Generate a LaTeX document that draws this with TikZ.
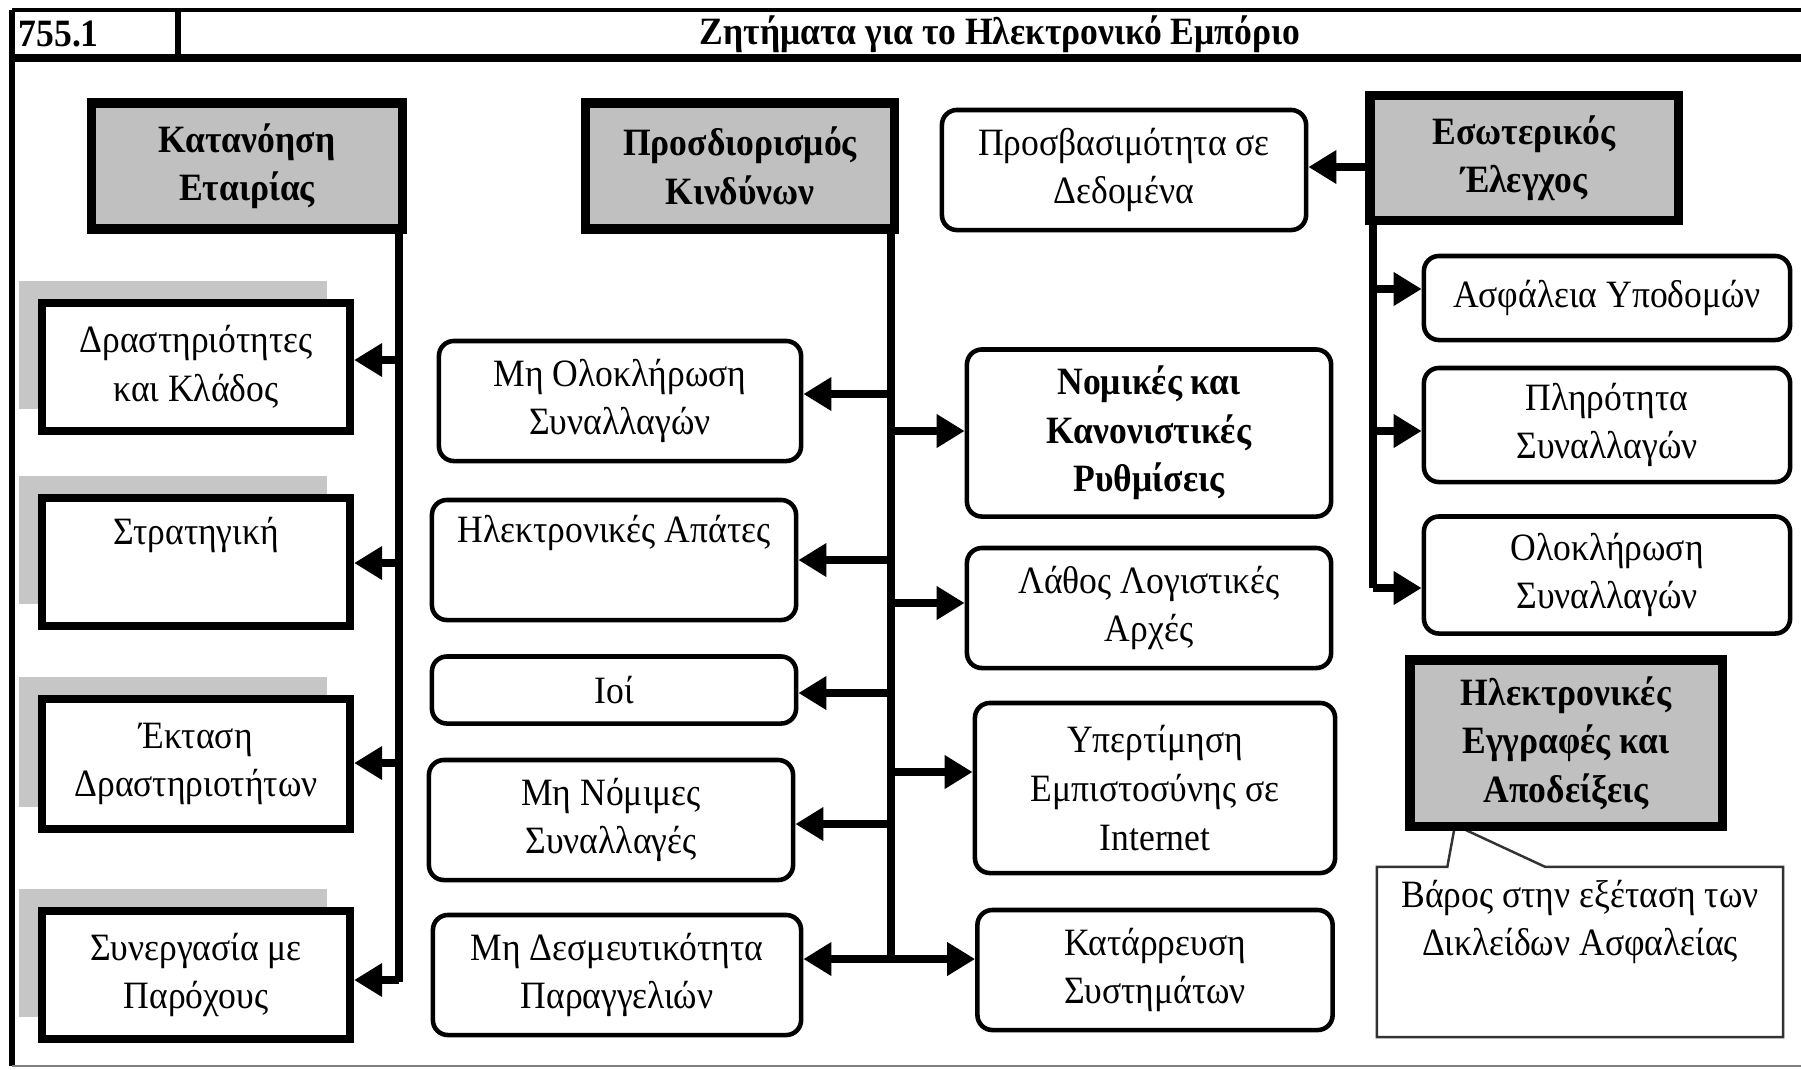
\documentclass[tikz,border=0pt]{standalone}
\usepackage{fontspec}
\setmainfont[FakeStretch=0.92]{Liberation Serif}
\usetikzlibrary{arrows.meta,shadows,shapes.callouts}
\definecolor{boxgrey}{RGB}{192,192,192}
\definecolor{shadegrey}{RGB}{198,198,198}
\tikzset{
  txt/.style={align=center, font=\fontsize{11}{13.8}\selectfont},
  headbox/.style={txt, draw, line width=2.6pt, fill=boxgrey, font=\bfseries\fontsize{11}{13.8}\selectfont, minimum width=3.08cm, minimum height=1.26cm},
  squarebox/.style={txt, draw, line width=2.3pt, fill=white, minimum width=3.08cm, minimum height=1.28cm,
    drop shadow={shadow xshift=-0.23cm, shadow yshift=0.22cm, fill=shadegrey, opacity=1}},
  roundbox/.style={txt, draw, line width=1.3pt, rounded corners=0.15cm, fill=white, minimum width=3.64cm, minimum height=1.2cm},
  trunk/.style={line width=2.2pt},
  arr/.style={line width=2.2pt, -{Triangle[length=0.28cm,width=0.32cm]}}
}
\begin{document}
\begin{tikzpicture}[x=0.01cm,y=-0.01cm]
    \useasboundingbox (0,0) rectangle (1801,1069);
    \draw[line width=1.1pt] (12,10) -- (1801,10);
    \draw[line width=2pt] (12,58) -- (1801,58);
    \draw[line width=1.6pt] (12,10) -- (12,1066);
    \draw[line width=1.6pt] (178,10) -- (178,58);
    \draw[gray, line width=0.6pt] (12,1066) -- (1801,1066);
    \node[font=\bfseries\fontsize{11}{13.8}\selectfont, anchor=west, inner sep=0pt] (num) at (18,34) {755.1};
    \node[font=\bfseries\fontsize{11}{13.8}\selectfont] (title) at (1000,34) {Ζητήματα για το Ηλεκτρονικό Εμπόριο};

    \node[headbox, minimum width=3.1cm] (firm) at (247,166) {Κατανόηση\\Εταιρίας};
    \node[squarebox] (act) at (196,367) {Δραστηριότητες\\και Κλάδος};
    \node[squarebox] (strat) at (196,562) {Στρατηγική\\\strut};
    \node[squarebox, minimum height=1.3cm] (scope) at (196,764) {Έκταση\\Δραστηριοτήτων};
    \node[squarebox] (coop) at (196,975) {Συνεργασία με\\Παρόχους};
    \coordinate (fk) at (399,230);
    \draw[trunk] (fk) -- (399,982);
    \foreach \n/\y in {act/360,strat/563,scope/763,coop/980}
        {\draw[arr] (399,\y) -- (399,\y -| \n.east);}

    \node[headbox] (risk) at (740,166) {Προσδιορισμός\\Κινδύνων};
    \node[roundbox, minimum width=3.62cm] (incomp) at (620,401) {Μη Ολοκλήρωση\\Συναλλαγών};
    \node[roundbox] (fraud) at (614,560) {Ηλεκτρονικές Απάτες\\\strut};
    \node[roundbox, minimum height=0.67cm] (virus) at (614,690) {Ιοί};
    \node[roundbox] (illeg) at (611,820) {Μη Νόμιμες\\Συναλλαγές};
    \node[roundbox, minimum width=3.68cm] (nonbind) at (617,975) {Μη Δεσμευτικότητα\\Παραγγελιών};
    \node[roundbox, minimum height=1.67cm, font=\bfseries\fontsize{11}{13.8}\selectfont] (legal) at (1149,433) {Νομικές και\\Κανονιστικές\\Ρυθμίσεις};
    \node[roundbox] (acct) at (1149,608) {Λάθος Λογιστικές\\Αρχές};
    \node[roundbox, minimum width=3.6cm, minimum height=1.7cm] (trust) at (1155,788) {Υπερτίμηση\\Εμπιστοσύνης σε\\Internet};
    \node[roundbox, minimum width=3.55cm] (crash) at (1155,970) {Κατάρρευση\\Συστημάτων};
    \draw[trunk] (891,230) -- (891,959);
    \foreach \n/\y in {incomp/394,fraud/560,virus/693,illeg/824,nonbind/959}
        {\draw[arr] (891,\y) -- (891,\y -| \n.east);}
    \foreach \n/\y in {legal/431,acct/603,trust/772,crash/959}
        {\draw[arr] (891,\y) -- (891,\y -| \n.west);}

    \node[roundbox] (access) at (1124,170) {Προσβασιμότητα σε\\Δεδομένα};
    \node[headbox, minimum height=1.25cm] (ctrl) at (1524,158) {Εσωτερικός\\Έλεγχος};
    \node[roundbox, minimum width=3.66cm, minimum height=0.84cm] (infra) at (1607,298) {Ασφάλεια Υποδομών};
    \node[roundbox, minimum width=3.66cm, minimum height=1.14cm] (full) at (1607,425) {Πληρότητα\\Συναλλαγών};
    \node[roundbox, minimum width=3.66cm, minimum height=1.17cm] (compl) at (1607,575) {Ολοκλήρωση\\Συναλλαγών};
    \draw[arr] (1373,167) -- (1373,167 -| access.east);
    \draw[trunk] (1373,221) -- (1373,588);
    \foreach \n/\y in {infra/289,full/431,compl/588}
        {\draw[arr] (1373,\y) -- (1373,\y -| \n.west);}

    \node[rectangle callout, draw=black!80, line width=0.7pt, fill=white, minimum width=4.06cm, minimum height=1.7cm,
        callout absolute pointer={(1455,825)}, callout pointer width=0.98cm] (note) at (1580,952) {};
    \node[txt, anchor=north] (notetext) at ([yshift=-0.02cm]note.north) {Βάρος στην εξέταση των\\Δικλείδων Ασφαλείας};
    \node[headbox, minimum width=3.12cm, minimum height=1.66cm] (recs) at (1566,743) {Ηλεκτρονικές\\Εγγραφές και\\Αποδείξεις};
\end{tikzpicture}
\end{document}
